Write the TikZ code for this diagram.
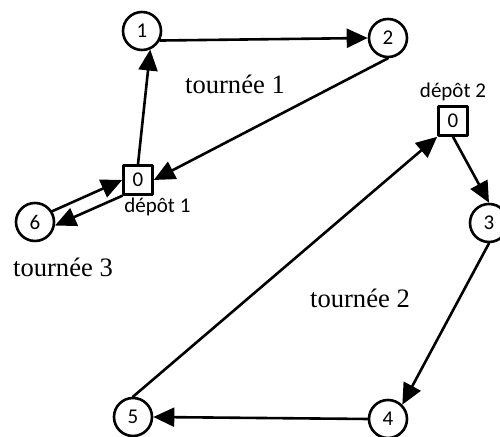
\documentclass[tikz,border=0pt]{standalone}
\usepackage{fontspec}
\setmainfont{Liberation Serif}
\newfontfamily\calfont{Carlito}
\usepackage{tikz}
\usetikzlibrary{arrows.meta}
\usetikzlibrary{positioning}

\begin{document}
\begin{tikzpicture}[line cap=round,line join=round,>={Triangle[length=10.5pt,width=9.5pt]},x=0.5pt,y=-0.5pt,
  client/.style={circle,draw,line width=1.3pt,minimum size=19pt,inner sep=0pt,font=\calfont\fontsize{10.5}{12}\selectfont},
  depot/.style={rectangle,draw,line width=1.3pt,minimum size=14.5pt,inner sep=0pt,font=\calfont\fontsize{10.5}{12}\selectfont},
  depotlabel/.style={inner sep=0pt,font=\calfont\fontsize{10.5}{12}\selectfont},
  tour/.style={inner sep=0pt,font=\fontsize{13.3}{16}\selectfont}]
\useasboundingbox (0,0) rectangle (500,437);

% depots
\node[depot] (d1) at (138,180) {0};
\node[depot] (d2) at (453,121) {0};
\node[depotlabel,anchor=north west] (l1) at (124,198) {dépôt 1};
\node[depotlabel] (l2) at (453,92) {dépôt 2};

% clients
\node[client] (n1) at (142,31) {1};
\node[client] (n2) at (388,38) {2};
\node[client] (n3) at (489,223) {3};
\node[client] (n4) at (388,419) {4};
\node[client] (n5) at (133,417) {5};
\node[client] (n6) at (35,222) {6};

\node[tour] (t1) at (235,84) {tournée 1};
\node[tour] (t2) at (360,298) {tournée 2};
\node[tour] (t3) at (63,267) {tournée 3};

% tournee 1
\path (d1.north) edge[->,line width=1.3pt] (n1.-66);
\path (n1.-28) edge[->,line width=1.3pt] (n2.west);
\path (n2.south) edge[->,line width=1.3pt] (d1.east);

% tournee 2
\path (d2.south) edge[->,line width=1.3pt] (n3.north);
\path (n3.south) edge[->,line width=1.3pt] (n4.45);
\path (n4.west) edge[->,line width=1.3pt] (n5.east);
\path (n5.north) edge[->,line width=1.3pt] (d2.south west);

% tournee 3
\path (n6.32) edge[->,line width=1.3pt] (d1.west);
\path (d1.south west) edge[->,line width=1.3pt] (n6.-10);

\end{tikzpicture}
\end{document}
